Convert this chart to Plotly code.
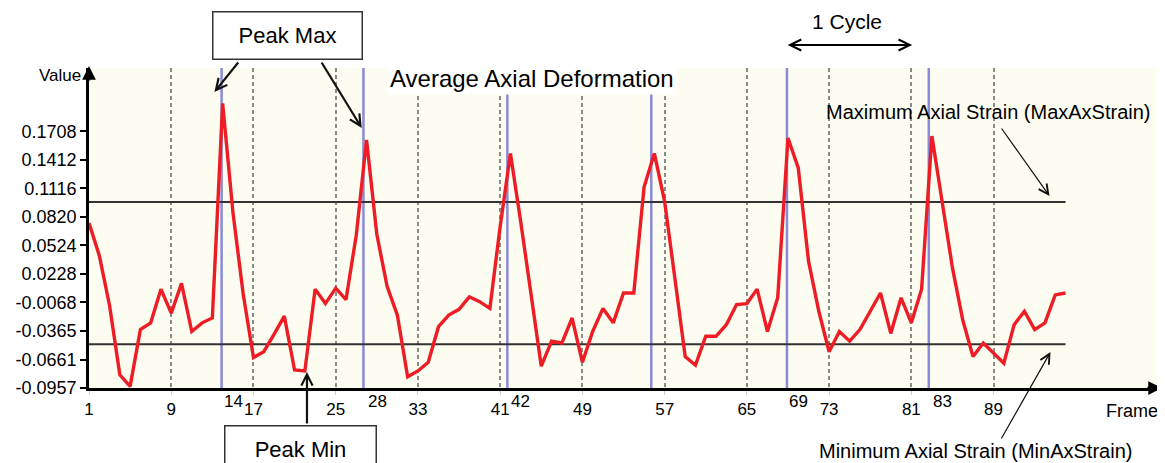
import plotly.graph_objects as go

# ---------------- data ----------------
frames = list(range(1, 97))
avg_axial_deformation = [
    0.0756, 0.042, -0.010, -0.082, -0.094, -0.035, -0.028, 0.007, -0.018, 0.013,
    -0.037, -0.028, -0.023, 0.200, 0.087, 0.002, -0.064, -0.058, -0.040, -0.021,
    -0.077, -0.078, 0.007, -0.008, 0.008, -0.004, 0.063, 0.162, 0.064, 0.010,
    -0.020, -0.084, -0.078, -0.069, -0.032, -0.020, -0.014, -0.001, -0.006, -0.013,
    0.072, 0.148, 0.077, 0.005, -0.073, -0.047, -0.049, -0.023, -0.069, -0.037,
    -0.013, -0.028, 0.003, 0.003, 0.113, 0.148, 0.098, 0.018, -0.063, -0.072,
    -0.042, -0.042, -0.030, -0.009, -0.008, 0.007, -0.037, -0.002, 0.164, 0.133,
    0.036, -0.016, -0.058, -0.037, -0.047, -0.035, -0.016, 0.003, -0.039, -0.002,
    -0.028, 0.007, 0.166, 0.095, 0.029, -0.025, -0.063, -0.049, -0.059, -0.070,
    -0.030, -0.016, -0.035, -0.028, 0.001, 0.003,
]
max_ax_strain = 0.0975
min_ax_strain = -0.0502
peak_lines = [13.9, 27.7, 41.7, 55.7, 68.9, 82.7]
peak_labels = [14, 28, 42, 69, 83]
x_ticks = [1, 9, 17, 25, 33, 41, 49, 57, 65, 73, 81, 89]
y_ticks = [-0.0957, -0.0661, -0.0365, -0.0068, 0.0228, 0.0524, 0.0820, 0.1116, 0.1412, 0.1708]
y_tick_text = ["-0.0957", "-0.0661", "-0.0365", "-0.0068", "0.0228", "0.0524",
               "0.0820", "0.1116", "0.1412", "0.1708"]

# ---------------- layout geometry ----------------
# the page body has an 8px default margin, so the figure starts at (8, 8)
OFF = 8
W, H = 1165 - OFF, 463 - OFF
ML, MT = 84 - OFF, 68 - OFF
PW, PH = 1073, 320
MR, MB = W - ML - PW, H - MT - PH
X_RANGE = [1.0, 104.9]
Y_RANGE = [-0.0957, 0.2367]

def px(x):
    # page pixel -> paper fraction
    return (x - OFF - ML) / PW

def py(y):
    return (OFF + MT + PH - y) / PH

FONT = "Liberation Sans, Arial, Helvetica, sans-serif"
BLUE = "#8a8ad8"
RED = "#ee1c25"

fig = go.Figure()

# peak frame markers (blue vertical lines)
for xv in peak_lines:
    fig.add_trace(go.Scatter(x=[xv, xv], y=Y_RANGE, mode="lines",
                             line=dict(color=BLUE, width=2.5),
                             hoverinfo="skip", showlegend=False))

# strain thresholds
for yv in (max_ax_strain, min_ax_strain):
    fig.add_trace(go.Scatter(x=[frames[0], frames[-1]], y=[yv, yv], mode="lines",
                             line=dict(color="#333333", width=2),
                             hoverinfo="skip", showlegend=False))

# average axial deformation
fig.add_trace(go.Scatter(x=frames, y=avg_axial_deformation, mode="lines",
                         line=dict(color=RED, width=3.4),
                         showlegend=False))

ann = []
# title with white background
ann.append(dict(text="Average Axial Deformation", xref="paper", yref="paper",
                x=px(529), y=py(78), xanchor="center", yanchor="middle",
                showarrow=False, bgcolor="white", borderpad=2,
                font=dict(size=24, color="black", family=FONT)))
# axis titles
ann.append(dict(text="Value", xref="paper", yref="paper", x=px(78), y=py(75),
                xanchor="right", yanchor="middle", showarrow=False,
                font=dict(size=17, color="black", family=FONT)))
ann.append(dict(text="Frame", xref="paper", yref="paper", x=px(1104), y=py(411),
                xanchor="left", yanchor="middle", showarrow=False,
                font=dict(size=18, color="black", family=FONT)))
# axis arrows
ann.append(dict(text="", xref="paper", yref="paper", x=px(1162), y=py(388),
                ax=-16, ay=0, showarrow=True, arrowhead=2, arrowsize=1.1,
                arrowwidth=2.5, arrowcolor="black"))
ann.append(dict(text="", xref="paper", yref="paper", x=px(84), y=py(66),
                ax=0, ay=16, showarrow=True, arrowhead=2, arrowsize=1.1,
                arrowwidth=2.5, arrowcolor="black"))
# peak labels on x axis
for f in peak_labels:
    ann.append(dict(text=str(f), xref="x", yref="paper", x=f, y=0,
                    xanchor="left", yanchor="top", yshift=-2, xshift=-1,
                    showarrow=False,
                    font=dict(size=17, color="black", family=FONT)))
# 1 Cycle
ann.append(dict(text="1 Cycle", xref="paper", yref="paper", x=px(846), y=py(22),
                xanchor="center", yanchor="middle", showarrow=False, borderpad=0,
                font=dict(size=21, color="black", family=FONT)))
ann.append(dict(text="", xref="paper", yref="paper", x=px(911), y=py(45),
                ax=-126, ay=0, showarrow=True, arrowhead=5, startarrowhead=5,
                arrowside="end+start", arrowsize=1, startarrowsize=1,
                arrowwidth=2.2, arrowcolor="black"))
# Peak Max box + arrows
ann.append(dict(text="Peak Max", xref="paper", yref="paper", x=px(283), y=py(36),
                xanchor="center", yanchor="middle", showarrow=False,
                width=140, height=38, borderpad=4, bordercolor="#333333",
                borderwidth=1.5, bgcolor="white",
                font=dict(size=22, color="black", family=FONT)))
ann.append(dict(text="", xref="paper", yref="paper", x=px(210), y=py(92),
                ax=25, ay=-31, showarrow=True, arrowhead=5, arrowsize=1,
                arrowwidth=2.2, arrowcolor="#111111"))
ann.append(dict(text="", xref="paper", yref="paper", x=px(358), y=py(128),
                ax=-41, ay=-67, showarrow=True, arrowhead=5, arrowsize=1,
                arrowwidth=2.2, arrowcolor="#111111"))
# Peak Min box + arrow
ann.append(dict(text="Peak Min", xref="paper", yref="paper", x=px(296), y=py(449),
                xanchor="center", yanchor="middle", showarrow=False,
                width=142, height=38, borderpad=4, bordercolor="#333333",
                borderwidth=1.5, bgcolor="white",
                font=dict(size=22, color="black", family=FONT)))
ann.append(dict(text="", xref="paper", yref="paper", x=px(303), y=py(372),
                ax=0, ay=53, showarrow=True, arrowhead=5, arrowsize=1,
                arrowwidth=2.2, arrowcolor="#111111"))
# Max / Min axial strain labels
ann.append(dict(text="Maximum Axial Strain (MaxAxStrain)", xref="paper", yref="paper",
                x=px(822), y=py(112), xanchor="left", yanchor="middle",
                showarrow=False, font=dict(size=20, color="black", family=FONT)))
ann.append(dict(text="", xref="paper", yref="paper", x=px(1049), y=py(196),
                ax=-49, ay=-69, showarrow=True, arrowhead=5, arrowsize=1.6,
                arrowwidth=1.2, arrowcolor="#111111"))
ann.append(dict(text="Minimum Axial Strain (MinAxStrain)", xref="paper", yref="paper",
                x=px(975), y=py(451), xanchor="center", yanchor="middle",
                showarrow=False, font=dict(size=20, color="black", family=FONT)))
ann.append(dict(text="", xref="paper", yref="paper", x=px(1050), y=py(352),
                ax=-50, ay=88, showarrow=True, arrowhead=5, arrowsize=1.6,
                arrowwidth=1.2, arrowcolor="#111111"))

fig.update_layout(
    width=W, height=H, autosize=False,
    margin=dict(l=ML, r=MR, t=MT, b=MB, pad=0),
    paper_bgcolor="white", plot_bgcolor="#fcfcf0",
    font=dict(family=FONT, color="black"),
    annotations=ann,
    hovermode=False,
)
fig.update_xaxes(
    range=X_RANGE, tickmode="array", tickvals=x_ticks,
    ticktext=[str(v) for v in x_ticks],
    showgrid=True, gridcolor="#8a8a8a", gridwidth=2, griddash="4px,3px",
    showline=True, linecolor="black", linewidth=2.5,
    ticks="outside", ticklen=4, tickcolor="#cccccc", tickwidth=1,
    tickfont=dict(size=17, color="black", family=FONT),
    zeroline=False, fixedrange=True,
)
fig.update_yaxes(
    range=Y_RANGE, tickmode="array", tickvals=y_ticks, ticktext=y_tick_text,
    showgrid=False, showline=True, linecolor="black", linewidth=2.5,
    ticks="outside", ticklen=6, tickcolor="black", tickwidth=2,
    tickfont=dict(size=18, color="black", family=FONT),
    zeroline=False, fixedrange=True,
)

fig.write_html("out.html")
